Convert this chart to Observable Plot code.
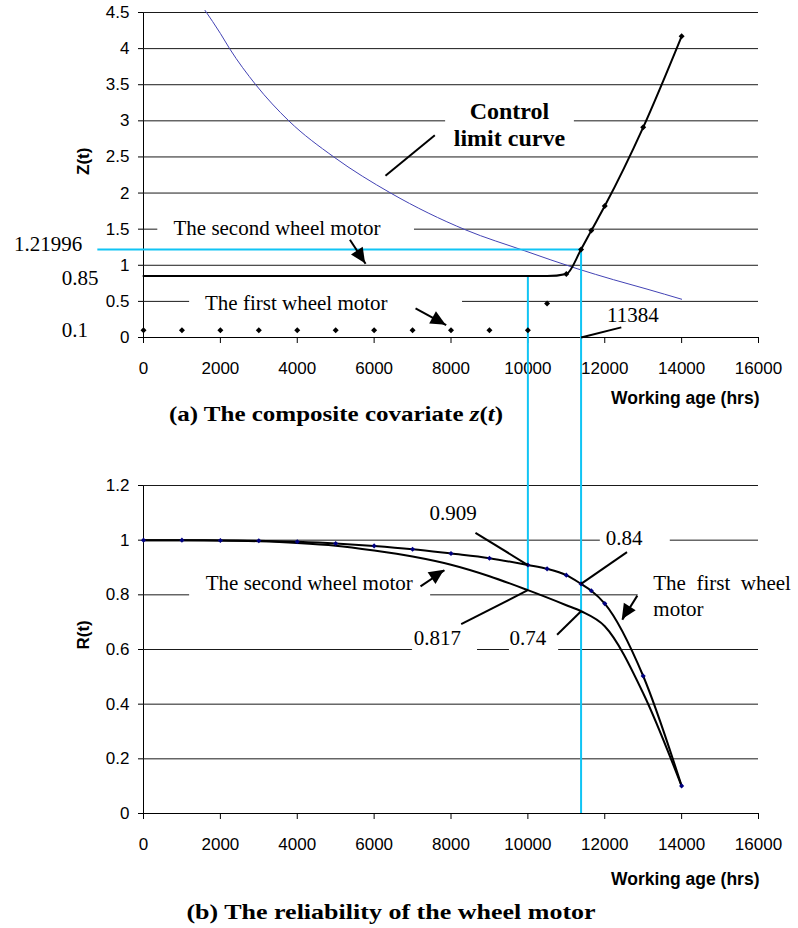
<!DOCTYPE html>
<html>
<head>
<meta charset="utf-8">
<script src="https://cdn.jsdelivr.net/npm/d3@7"></script>
<script src="https://cdn.jsdelivr.net/npm/@observablehq/plot@0.6"></script>
<style>
  body { margin: 0; background: #fff; }
  #wrap { position: relative; width: 798px; height: 928px; background: #fff; overflow: hidden; }
  #top, #bot { position: absolute; left: 0; }
  #top { top: 0; }
  #bot { top: 425px; }
  .cap { position: absolute; font-family: "Liberation Serif", "Times New Roman", serif; font-weight: bold;
         font-size: 20px; line-height: 20px; white-space: nowrap; color: #000; }
  #capA { transform: translateX(-50%) scaleX(1.25); }
  #capB { transform: translateX(-50%) scaleX(1.3); }
</style>
</head>
<body>
<div id="wrap">
  <div id="top"></div>
  <div id="bot"></div>
  <div class="cap" id="capA" style="left:336px;top:404px"></div>
  <div class="cap" id="capB" style="left:391px;top:902px"></div>
</div>
<script>
// ---------- data ----------
const xTicks = [0, 2000, 4000, 6000, 8000, 10000, 12000, 14000, 16000];
const zTicks = [0, 0.5, 1, 1.5, 2, 2.5, 3, 3.5, 4, 4.5];
const rTicks = [0, 0.2, 0.4, 0.6, 0.8, 1, 1.2];

// (a) composite covariate
const firstMotorHours = [0, 1000, 2000, 3000, 4000, 5000, 6000, 7000, 8000, 9000, 10000, 10500, 11000, 11384, 11650, 12000, 13000, 14000];
const firstMotorZ     = [0.1, 0.1, 0.1, 0.1, 0.1, 0.1, 0.1, 0.1, 0.1, 0.1, 0.1, 0.47, 0.88, 1.22, 1.48, 1.82, 2.91, 4.17];
const secondMotorHours = [0, 1000, 2000, 3000, 4000, 5000, 6000, 7000, 8000, 9000, 10000, 10500, 11000, 11384, 11650, 12000, 13000, 14000];
const secondMotorZ     = [0.85, 0.85, 0.85, 0.85, 0.85, 0.85, 0.85, 0.85, 0.85, 0.85, 0.85, 0.85, 0.88, 1.22, 1.48, 1.82, 2.91, 4.17];
const controlHours = [1600, 2000, 2240, 2920, 3780, 4950, 6430, 8380, 9920, 11280, 12230, 13100, 14000];
const controlZ     = [4.53, 4.21, 4.0, 3.5, 3.0, 2.5, 2.0, 1.49, 1.2, 0.953, 0.8, 0.67, 0.53];

// (b) reliability
const firstMotorR  = [1, 1, 0.999, 0.998, 0.994, 0.988, 0.979, 0.967, 0.951, 0.934, 0.909, 0.895, 0.872, 0.84, 0.815, 0.768, 0.503, 0.101];
const secondRHours = [0, 1000, 2000, 3000, 4000, 5000, 6000, 7000, 8000, 9000, 10000, 11000, 11384, 12000, 13000, 14000];
const secondMotorR = [1, 1, 0.999, 0.996, 0.99, 0.98, 0.962, 0.94, 0.91, 0.868, 0.817, 0.762, 0.74, 0.685, 0.44, 0.1];

// reference values
const optimalHours = 11384;
const zAtOptimal = 1.21996;
const inspectHours = 10000;
const zSecondFlat = 0.85;
const rFirstAtInspect = 0.909, rSecondAtInspect = 0.817;
const rFirstAtOptimal = 0.84, rSecondAtOptimal = 0.74;

// texts
const captionA = '(a) The composite covariate <i>z</i>(<i>t</i>)';
const captionB = '(b) The reliability of the wheel motor';
const xTitle = "Working age (hrs)";
const zTitle = "Z(t)";
const rTitle = "R(t)";

// annotations (positions in data units)
const topNotes = [
  {label: "The second wheel motor", x: 780, y: 1.426},
  {label: "1.21996", x: -3371, y: 1.195},
  {label: "0.85", x: -2124, y: 0.722},
  {label: "The first wheel motor", x: 1601, y: 0.377},
  {label: "0.1", x: -2124, y: 0.004},
  {label: "11384", x: 12060, y: 0.215}
];
const topBold = [{label: "Control\nlimit curve", x: 9520, y: 2.655}];
const topBoxes = [
  {x1: 7860, x2: 11210, y1: 2.6, y2: 3.3},
  {x1: 372, x2: 7050, y1: 1.32, y2: 1.68},
  {x1: 1200, x2: 8300, y1: 0.3, y2: 0.7}
];
const topLeaders = [
  {x1: 6295, y1: 2.24, x2: 7579, y2: 2.80},
  {x1: 11384, y1: 0, x2: 12431, y2: 0.14}
];
const topArrows = [
  {x1: 5370, y1: 1.353, x2: 5778, y2: 1.022},
  {x1: 7077, y1: 0.404, x2: 7875, y2: 0.17}
];
const botNotes = [
  {label: "0.909", x: 7441, y: 1.072},
  {label: "0.84", x: 12023, y: 0.981},
  {label: "The second wheel motor", x: 1619, y: 0.819},
  {label: "The  first  wheel\nmotor", x: 13263, y: 0.724},
  {label: "0.817", x: 7033, y: 0.615},
  {label: "0.74", x: 9520, y: 0.615}
];
const botBoxes = [
  {x1: 11885, x2: 13705, y1: 0.96, y2: 1.04},
  {x1: 1200, x2: 7470, y1: 0.775, y2: 0.848},
  {x1: 12870, x2: 17100, y1: 0.70, y2: 0.874},
  {x1: 7000, x2: 8690, y1: 0.576, y2: 0.643},
  {x1: 9520, x2: 10800, y1: 0.576, y2: 0.643}
];
const botLeaders = [
  {x1: 8637, y1: 1.027, x2: 10000, y2: 0.909},
  {x1: 12579, y1: 0.956, x2: 11384, y2: 0.84},
  {x1: 8265, y1: 0.693, x2: 10000, y2: 0.817},
  {x1: 10760, y1: 0.654, x2: 11384, y2: 0.74}
];
const botArrows = [
  {x1: 7207, y1: 0.831, x2: 7831, y2: 0.890},
  {x1: 12847, y1: 0.797, x2: 12457, y2: 0.709}
];

// ---------- helpers ----------
const zip = (xs, ys) => xs.map((x, i) => ({x, y: ys[i]}));
const CYAN = "#10c4f4";
const BLUE = "#4343b5";
const SERIF = "Liberation Serif, Times New Roman, serif";
const SANS = "Liberation Sans, Arial, sans-serif";

function arrowHeads(list) {
  return (a, b) => {
    const scales = (b && typeof b.x === "function") ? b : a;
    const g = document.createElementNS("http://www.w3.org/2000/svg", "g");
    for (const d of list) {
      const x1 = scales.x(d.x1), y1 = scales.y(d.y1), x2 = scales.x(d.x2), y2 = scales.y(d.y2);
      const ang = Math.atan2(y2 - y1, x2 - x1);
      const L = 15, W = 7;
      const bx = x2 - L * Math.cos(ang), by = y2 - L * Math.sin(ang);
      const px = -Math.sin(ang) * W, py = Math.cos(ang) * W;
      const p = document.createElementNS("http://www.w3.org/2000/svg", "path");
      p.setAttribute("d", `M${x2},${y2}L${bx + px},${by + py}L${bx - px},${by - py}Z`);
      p.setAttribute("fill", "black");
      g.appendChild(p);
    }
    return g;
  };
}

const common = {
  width: 798,
  marginLeft: 143, marginRight: 40,
  style: {fontFamily: SANS, fontSize: "17px", color: "black", background: "white"}
};

// ---------- (a) ----------
const topPlot = Plot.plot({
  ...common,
  height: 425, marginTop: 12, marginBottom: 88,
  x: {domain: [0, 16000], ticks: xTicks, tickSize: 6, tickPadding: 18, tickFormat: d => String(d), label: null, line: true},
  y: {domain: [0, 4.5], ticks: zTicks, tickSize: 5, tickPadding: 9, tickFormat: d => String(d), label: null, line: true},
  marks: [
    Plot.ruleY(zTicks.filter(d => d > 0), {stroke: "#1a1a1a", strokeWidth: 1}),
    Plot.rect(topBoxes, {x1: "x1", x2: "x2", y1: "y1", y2: "y2", fill: "white"}),
    Plot.line(zip(controlHours, controlZ), {x: "x", y: "y", stroke: BLUE, strokeWidth: 1, curve: "monotone-x"}),
    Plot.ruleY([zAtOptimal], {x1: -1188, x2: optimalHours, stroke: CYAN, strokeWidth: 2}),
    Plot.ruleX([optimalHours], {y1: zAtOptimal, y2: 0, insetBottom: -88, stroke: CYAN, strokeWidth: 2}),
    Plot.ruleX([inspectHours], {y1: zSecondFlat, y2: 0, insetBottom: -88, stroke: CYAN, strokeWidth: 2}),
    Plot.line(zip(secondMotorHours, secondMotorZ), {x: "x", y: "y", stroke: "black", strokeWidth: 2, curve: "monotone-x"}),
    Plot.dot(zip(firstMotorHours, firstMotorZ), {x: "x", y: "y", symbol: "diamond2", r: 2.7, fill: "black", stroke: null}),
    Plot.link(topLeaders, {x1: "x1", y1: "y1", x2: "x2", y2: "y2", stroke: "black", strokeWidth: 2}),
    Plot.link(topArrows, {x1: "x1", y1: "y1", x2: "x2", y2: "y2", stroke: "black", strokeWidth: 2}),
    arrowHeads(topArrows),
    Plot.text(topNotes, {x: "x", y: "y", text: "label", textAnchor: "start", lineAnchor: "bottom", fontFamily: SERIF, fontSize: 21, fill: "black"}),
    Plot.text(topBold, {x: "x", y: "y", text: "label", textAnchor: "middle", lineAnchor: "bottom", lineHeight: 1.11, fontFamily: SERIF, fontSize: 24, fontWeight: "bold", fill: "black"}),
    Plot.text([zTitle], {text: d => d, frameAnchor: "left", dx: -60, rotate: -90, fontWeight: "bold", fontSize: 17, fill: "black"}),
    Plot.text([xTitle], {text: d => d, frameAnchor: "bottom-right", textAnchor: "end", dx: 1, dy: 66, fontWeight: "bold", fontSize: 17.5, fill: "black"})
  ]
});
document.getElementById("top").appendChild(topPlot);

// ---------- (b) ----------
const botPlot = Plot.plot({
  ...common,
  height: 503, marginTop: 60, marginBottom: 115,
  x: {domain: [0, 16000], ticks: xTicks, tickSize: 6, tickPadding: 18, tickFormat: d => String(d), label: null, line: true},
  y: {domain: [0, 1.2], ticks: rTicks, tickSize: 5, tickPadding: 9, tickFormat: d => String(d), label: null, line: true},
  marks: [
    Plot.ruleY(rTicks.filter(d => d > 0), {stroke: "#1a1a1a", strokeWidth: 1}),
    Plot.rect(botBoxes, {x1: "x1", x2: "x2", y1: "y1", y2: "y2", fill: "white"}),
    Plot.ruleX([inspectHours], {y1: 1.2, y2: rSecondAtInspect, insetTop: -60, stroke: CYAN, strokeWidth: 2}),
    Plot.ruleX([optimalHours], {y1: 1.2, y2: 0, insetTop: -60, stroke: CYAN, strokeWidth: 2}),
    Plot.line(zip(secondRHours, secondMotorR), {x: "x", y: "y", stroke: "black", strokeWidth: 2, curve: "monotone-x"}),
    Plot.line(zip(firstMotorHours, firstMotorR), {x: "x", y: "y", stroke: "black", strokeWidth: 2, curve: "monotone-x"}),
    Plot.dot(zip(firstMotorHours, firstMotorR), {x: "x", y: "y", symbol: "diamond2", r: 2.3, fill: "#000080", stroke: null}),
    Plot.link(botLeaders, {x1: "x1", y1: "y1", x2: "x2", y2: "y2", stroke: "black", strokeWidth: 2}),
    Plot.link(botArrows, {x1: "x1", y1: "y1", x2: "x2", y2: "y2", stroke: "black", strokeWidth: 2}),
    arrowHeads(botArrows),
    Plot.text(botNotes, {x: "x", y: "y", text: "label", textAnchor: "start", lineAnchor: "bottom", lineHeight: 1.238, fontFamily: SERIF, fontSize: 21, fill: "black"}),
    Plot.text([rTitle], {text: d => d, frameAnchor: "left", dx: -60, rotate: -90, fontWeight: "bold", fontSize: 17, fill: "black"}),
    Plot.text([xTitle], {text: d => d, frameAnchor: "bottom-right", textAnchor: "end", dx: 1, dy: 71, fontWeight: "bold", fontSize: 17.5, fill: "black"})
  ]
});
document.getElementById("bot").appendChild(botPlot);

document.getElementById("capA").innerHTML = captionA;
document.getElementById("capB").textContent = captionB;
</script>
</body>
</html>
